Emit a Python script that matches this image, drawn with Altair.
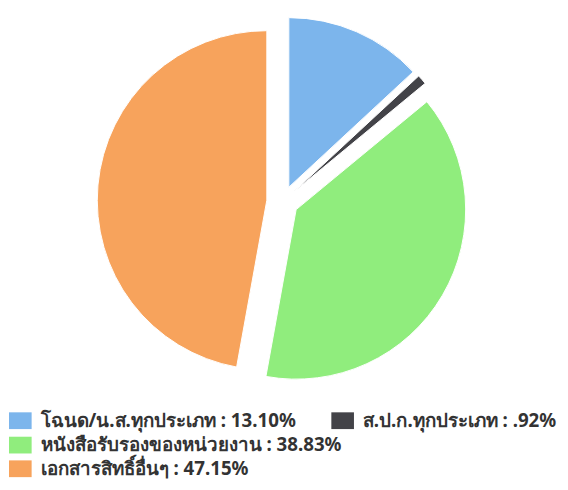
import altair as alt
import pandas as pd

names = ["โฉนด/น.ส.ทุกประเภท", "ส.ป.ก.ทุกประเภท", "หนังสือรับรองของหน่วยงาน", "เอกสารสิทธิ์อื่นๆ"]
values = [13.10, 0.92, 38.83, 47.15]
colors = ["#7cb5ec", "#434348", "#90ed7d", "#f7a35c"]

labels = [f"{n} : {format(v, '.2f').lstrip('0')}%" for n, v in zip(names, values)]

df = pd.DataFrame({"label": labels, "value": values, "idx": list(range(len(values)))})

CX, CY, R, D = 278.5, 193, 172, 16

base = (
    alt.Chart(df)
    .transform_window(cum="sum(value)", sort=[{"field": "idx"}], frame=[None, 0])
    .transform_joinaggregate(total="sum(value)")
    .transform_calculate(
        a1="datum.cum / datum.total * 2 * PI",
        a0="(datum.cum - datum.value) / datum.total * 2 * PI",
    )
    .transform_calculate(mid="(datum.a0 + datum.a1) / 2")
    .transform_calculate(
        px=f"{CX} + {D} * sin(datum.mid)",
        py=f"{CY} - {D} * cos(datum.mid)",
    )
)

legend_common = dict(
    orient="none",
    title=None,
    symbolType="M-1.35,-1L1.35,-1L1.35,1L-1.35,1Z",
    symbolSize=289,
    symbolStrokeWidth=0,
    labelFont="Tahoma, Noto Sans",
    labelFontSize=19,
    labelFontWeight="bold",
    labelColor="#333333",
    labelLimit=500,
    labelOffset=11,
)

def pie(vals, legend_kw):
    return base.mark_arc(outerRadius=R, stroke="white", strokeWidth=1).encode(
        theta=alt.Theta("a0:Q", scale=None),
        theta2="a1:Q",
        x=alt.X("px:Q", scale=None),
        y=alt.Y("py:Q", scale=None),
        color=alt.Color(
            "label:N",
            scale=alt.Scale(domain=labels, range=colors),
            legend=alt.Legend(values=vals, **legend_common, **legend_kw),
        ),
        order=alt.Order("idx:Q"),
    )

layer1 = pie(labels[:2], dict(direction="horizontal", columns=2, columnPadding=33, legendX=3, legendY=405.5))
layer2 = pie(labels[2:], dict(direction="vertical", rowPadding=4, legendX=3, legendY=430.5))

chart = (
    alt.layer(layer1, layer2)
    .resolve_scale(color="independent")
    .properties(width=560, height=474, padding=0, autosize=alt.AutoSizeParams(type="none"))
    .configure_view(stroke=None)
)

chart.save("out.html", embed_options={"renderer": "svg", "actions": False})
